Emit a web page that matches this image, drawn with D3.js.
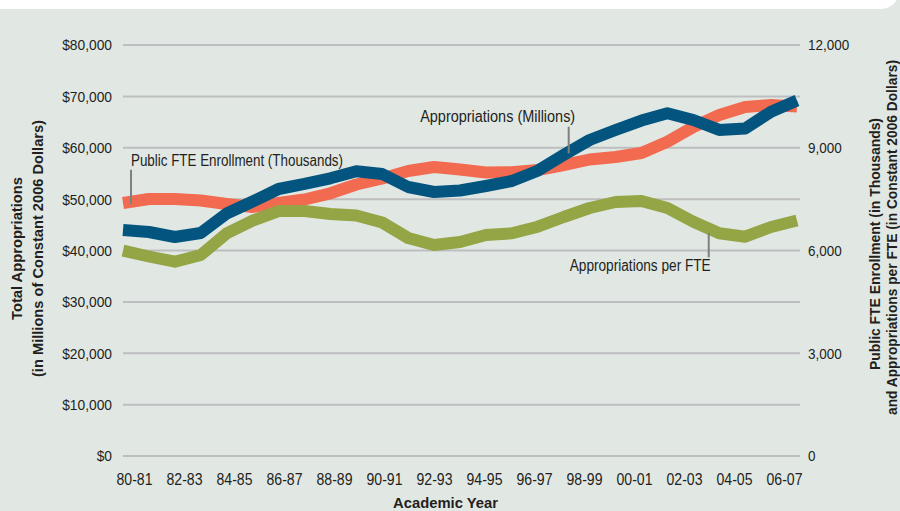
<!DOCTYPE html>
<html>
<head>
<meta charset="utf-8">
<script src="https://cdn.jsdelivr.net/npm/d3@7"></script>
<style>
  html, body { margin: 0; padding: 0; background: #e1e8e4; }
  svg { display: block; }
  text { font-family: "Liberation Sans", Arial, sans-serif; fill: #231f20; }
</style>
</head>
<body>
<svg id="chart" width="900" height="511"></svg>
<script>
const years = ["80-81","81-82","82-83","83-84","84-85","85-86","86-87","87-88","88-89","89-90",
  "90-91","91-92","92-93","93-94","94-95","95-96","96-97","97-98","98-99","99-00",
  "00-01","01-02","02-03","03-04","04-05","05-06","06-07"];
// Total appropriations, millions of constant 2006 dollars (left axis)
const appropriations = [43990,43600,42630,43400,47200,49540,51970,52950,54050,55420,
  54890,52360,51390,51680,52560,53530,55530,58590,61510,63460,
  65300,66710,65400,63460,63750,67020,69200];
// Public FTE enrollment, thousands (right axis)
const enrollment = [7387,7504,7504,7460,7358,7270,7387,7489,7670,7927,
  8102,8321,8438,8365,8277,8283,8350,8496,8657,8730,
  8847,9177,9606,9956,10190,10248,10204];
// Appropriations per FTE, constant 2006 dollars (right axis)
const perFTE = [5994,5825,5673,5869,6502,6870,7153,7153,7066,7022,
  6818,6365,6161,6248,6453,6502,6695,6978,7241,7416,
  7445,7241,6841,6502,6403,6686,6876];
const leftTicks = [0,10000,20000,30000,40000,50000,60000,70000,80000];
const rightTicks = [0,3000,6000,9000,12000];
const xLabels = years.filter((d,i) => i % 2 === 0);

const svg = d3.select("#chart");
const pL = 123, pR = 799, pT = 45, pB = 456;
function condense(f) {
  return sel => sel.each(function () {
    const L = this.getComputedTextLength();
    this.setAttribute("textLength", (L * f).toFixed(2));
    this.setAttribute("lengthAdjust", "spacingAndGlyphs");
  });
}
function fitTo(w) {
  return sel => sel.attr("textLength", w).attr("lengthAdjust", "spacingAndGlyphs");
}

// top white band with rounded corner
svg.append("rect").attr("x", -30).attr("y", -40).attr("width", 930).attr("height", 49)
  .attr("rx", 20).attr("ry", 20).attr("fill", "#ffffff");

const yL = d3.scaleLinear().domain([0, 80000]).range([pB, pT]);
const yR = d3.scaleLinear().domain([0, 12000]).range([pB, pT]);
const xP = d3.scalePoint().domain(years).range([pL, pR - 2]);
const xB = d3.scaleBand().domain(years).range([pL - 1, pR - 2]);

// gridlines
svg.append("g").selectAll("line").data(leftTicks).join("line")
  .attr("x1", pL).attr("x2", pR + 1)
  .attr("y1", d => yL(d)).attr("y2", d => yL(d))
  .attr("stroke", "#bdbebf").attr("stroke-width", 2);

// left axis
const gL = svg.append("g").attr("transform", `translate(${pL - 11},0)`)
  .call(d3.axisLeft(yL).tickValues(leftTicks).tickSize(0).tickPadding(0)
    .tickFormat(d => "$" + d3.format(",")(d)));
gL.select(".domain").remove();
gL.attr("font-family", null).attr("font-size", null);
gL.selectAll("text").attr("font-size", 15.5).attr("fill", "#231f20").call(condense(0.89));

// right axis
const gR = svg.append("g").attr("transform", `translate(${pR + 9},0)`)
  .call(d3.axisRight(yR).tickValues(rightTicks).tickSize(0).tickPadding(0)
    .tickFormat(d3.format(",")));
gR.select(".domain").remove();
gR.attr("font-family", null).attr("font-size", null);
gR.selectAll("text").attr("font-size", 15.5).attr("fill", "#231f20").call(condense(0.87));

// x axis
const gX = svg.append("g").attr("transform", `translate(0,485)`)
  .call(d3.axisBottom(xB).tickValues(xLabels).tickSize(0).tickPadding(0));
gX.select(".domain").remove();
gX.attr("font-family", null).attr("font-size", null);
gX.selectAll("text").attr("y", 0).attr("dy", 0).attr("font-size", 16).attr("fill", "#231f20").call(condense(0.88));

// lines
const lineL = d3.line().x((d,i) => xP(years[i])).y(d => yL(d));
const lineR = d3.line().x((d,i) => xP(years[i])).y(d => yR(d));
svg.append("path").datum(enrollment).attr("d", lineR)
  .attr("fill", "none").attr("stroke", "#f26a4f").attr("stroke-width", 12).attr("stroke-linejoin", "round");
svg.append("path").datum(perFTE).attr("d", lineR)
  .attr("fill", "none").attr("stroke", "#93a545").attr("stroke-width", 12).attr("stroke-linejoin", "round");
svg.append("path").datum(appropriations).attr("d", lineL)
  .attr("fill", "none").attr("stroke", "#03557f").attr("stroke-width", 12).attr("stroke-linejoin", "round");

// annotations
const ann = svg.append("g");
const lead = "#7f8081";
ann.append("line").attr("x1", xP("80-81") + 8).attr("x2", xP("80-81") + 8)
  .attr("y1", yL(55700)).attr("y2", yL(49000)).attr("stroke", lead).attr("stroke-width", 2);
ann.append("text").attr("x", xP("80-81") + 8).attr("y", yL(56700) + 1.5).attr("font-size", 16)
  .text("Public FTE Enrollment (Thousands)").call(fitTo(212));

ann.append("line").attr("x1", xP("97-98") + 5).attr("x2", xP("97-98") + 5)
  .attr("y1", yL(64100)).attr("y2", yL(58900)).attr("stroke", lead).attr("stroke-width", 2);
ann.append("text").attr("x", xP("97-98") + 5 + 6.5).attr("y", yL(64100) - 4.5).attr("font-size", 16)
  .attr("text-anchor", "end").text("Appropriations (Millions)").call(fitTo(155));

ann.append("line").attr("x1", xP("03-04") - 10.5).attr("x2", xP("03-04") - 10.5)
  .attr("y1", yR(6510)).attr("y2", yR(5800)).attr("stroke", lead).attr("stroke-width", 2);
ann.append("text").attr("x", xP("03-04") - 10.5 + 2).attr("y", yR(5800) + 13.5).attr("font-size", 16)
  .attr("text-anchor", "end").text("Appropriations per FTE").call(fitTo(141));

// axis titles
const leftTitle = ["Total Appropriations", "(in Millions of Constant 2006 Dollars)"];
const leftTitleW = [143, 257];
leftTitle.forEach((t, i) => {
  svg.append("text").attr("transform", `translate(${22 + i * 20.5},248.5) rotate(-90)`)
    .attr("text-anchor", "middle").attr("font-size", 15).attr("font-weight", "bold")
    .text(t).call(fitTo(leftTitleW[i]));
});
const rightTitle = ["Public FTE Enrollment (in Thousands)", "and Appropriations per FTE (in Constant 2006 Dollars)"];
const rightTitleW = [252, 355];
const rightTitleY = [244, 237.5];
rightTitle.forEach((t, i) => {
  svg.append("text").attr("transform", `translate(${880 + i * 16.5},${rightTitleY[i]}) rotate(-90)`)
    .attr("text-anchor", "middle").attr("font-size", 15).attr("font-weight", "bold")
    .text(t).call(fitTo(rightTitleW[i]));
});

svg.append("text").attr("x", 445.5).attr("y", 508).attr("text-anchor", "middle")
  .attr("font-size", 15.5).attr("font-weight", "bold").text("Academic Year").call(fitTo(105));
</script>
</body>
</html>
